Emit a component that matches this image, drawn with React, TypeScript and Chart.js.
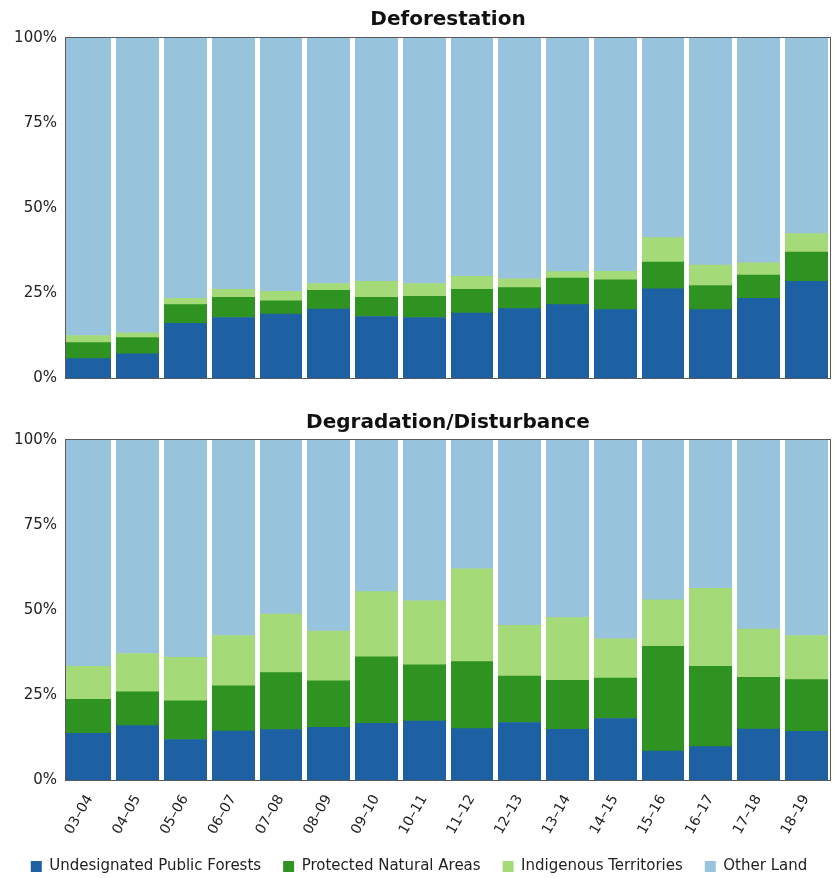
import React, { useEffect, useRef } from 'react';
import { Chart, registerables } from 'chart.js';

Chart.register(...registerables);

const periods = ['03–04', '04–05', '05–06', '06–07', '07–08', '08–09', '09–10', '10–11', '11–12', '12–13', '13–14', '14–15', '15–16', '16–17', '17–18', '18–19'];
const seriesNames = ['Undesignated Public Forests', 'Protected Natural Areas', 'Indigenous Territories', 'Other Land'];
const seriesColors = ['#1d61a4', '#2e9321', '#a5da78', '#97c3dc'];
const yTicks = [0, 25, 50, 75, 100];

// Deforestation (% share per period)
const defUndesignated = [5.7, 7.1, 16.1, 17.8, 18.8, 20.3, 18.1, 17.8, 19.1, 20.4, 21.6, 20.1, 26.2, 20.1, 23.4, 28.4];
const defProtected = [4.7, 4.8, 5.5, 5.9, 3.9, 5.5, 5.6, 6.2, 7.0, 6.2, 7.8, 8.8, 7.9, 7.1, 6.9, 8.6];
const defIndigenous = [2.1, 1.4, 1.8, 2.4, 2.8, 2.0, 4.7, 3.8, 3.8, 2.6, 1.9, 2.5, 7.2, 6.0, 3.6, 5.5];
const defOther = [87.5, 86.7, 76.6, 73.9, 74.5, 72.2, 71.6, 72.2, 70.1, 70.8, 68.7, 68.6, 58.7, 66.8, 66.1, 57.5];

// Degradation/Disturbance (% share per period)
const degUndesignated = [13.7, 16.0, 11.9, 14.4, 14.8, 15.5, 16.7, 17.3, 15.1, 16.9, 14.9, 18.1, 8.5, 9.8, 15.0, 14.3];
const degProtected = [10.0, 9.9, 11.4, 13.3, 16.8, 13.7, 19.5, 16.6, 19.7, 13.7, 14.4, 11.9, 30.8, 23.6, 15.2, 15.2];
const degIndigenous = [9.7, 11.3, 12.8, 14.8, 17.2, 14.6, 19.2, 18.8, 27.3, 14.9, 18.5, 11.5, 13.7, 23.0, 14.2, 13.0];
const degOther = [66.6, 62.8, 63.9, 57.5, 51.2, 56.2, 44.6, 47.3, 37.9, 54.5, 52.2, 58.5, 47.0, 43.6, 55.6, 57.5];

const FONT = '"DejaVu Sans", "Noto Sans", sans-serif';
const PAD_LEFT = 8;

const framePlugin = {
  id: 'frame',
  afterDraw(chart: any) {
    const { ctx, chartArea } = chart;
    const { left, top, right, bottom } = chartArea;
    ctx.save();
    ctx.strokeStyle = '#5a5a5a';
    ctx.lineWidth = 1;
    ctx.strokeRect(Math.round(left) - 0.5, Math.round(top) - 0.5, Math.round(right - left) + 1, Math.round(bottom - top) + 1);
    ctx.restore();
  },
};

function makeConfig(title: string, values: number[][], bottom: boolean, titlePad: { top: number; bottom: number }) {
  const n = periods.length;
  return {
    type: 'bar' as const,
    data: {
      labels: periods,
      datasets: seriesNames.map((name, i) => ({
        label: name,
        data: values[i],
        backgroundColor: seriesColors[i],
        borderWidth: 0,
        barPercentage: 1,
        categoryPercentage: 1,
      })),
    },
    options: {
      animation: false,
      responsive: true,
      maintainAspectRatio: false,
      layout: { padding: { left: PAD_LEFT, right: 4, top: 0, bottom: 0 } },
      plugins: {
        title: {
          display: true,
          fullSize: false,
          text: title,
          color: '#111',
          font: { family: FONT, size: 20, weight: 'bold' },
          padding: titlePad,
        },
        legend: bottom
          ? {
              display: true,
              position: 'bottom',
              labels: {
                color: '#222',
                font: { family: FONT, size: 15 },
                boxWidth: 11,
                boxHeight: 11,
                padding: 22,
              },
            }
          : { display: false },
        tooltip: { enabled: false },
      },
      scales: {
        x: {
          stacked: true,
          offset: true,
          border: { display: false },
          grid: {
            offset: true,
            z: 1,
            drawTicks: false,
            lineWidth: 5,
            color: (c: any) => (c.index === 0 || c.index >= n ? 'rgba(0,0,0,0)' : '#ffffff'),
          },
          ticks: bottom
            ? {
                display: true,
                color: '#222',
                font: { family: FONT, size: 14 },
                maxRotation: 60,
                minRotation: 60,
                padding: 12,
              }
            : { display: false },
          afterFit: (s: any) => { s.height = bottom ? 57 : 0; },
        },
        y: {
          stacked: true,
          min: 0,
          max: 100,
          border: { display: false },
          grid: { display: false, drawTicks: false },
          afterBuildTicks: (s: any) => { s.ticks = yTicks.map((v) => ({ value: v })); },
          ticks: {
            color: '#222',
            font: { family: FONT, size: 15 },
            padding: 9,
            callback: (v: any) => v + '%',
          },
          afterFit: (s: any) => { s.width = 66 - PAD_LEFT; },
        },
      },
    },
    plugins: [framePlugin],
  };
}

export default function App() {
  const topRef = useRef<HTMLCanvasElement | null>(null);
  const botRef = useRef<HTMLCanvasElement | null>(null);

  useEffect(() => {
    const c1 = new Chart(topRef.current as HTMLCanvasElement, makeConfig('Deforestation', [defUndesignated, defProtected, defIndigenous, defOther], false, { top: 8, bottom: 6 }) as any);
    const c2 = new Chart(botRef.current as HTMLCanvasElement, makeConfig('Degradation/Disturbance', [degUndesignated, degProtected, degIndigenous, degOther], true, { top: 21, bottom: 5 }) as any);
    return () => {
      c1.destroy();
      c2.destroy();
    };
  }, []);

  return (
    <div style={{ position: 'absolute', left: 0, top: 0, width: 834, height: 878, overflow: 'hidden', background: '#fff' }}>
      <div style={{ position: 'absolute', left: 0, top: 0, width: 834, height: 396 }}>
        <canvas ref={topRef} />
      </div>
      <div style={{ position: 'absolute', left: 0, top: 390, width: 834, height: 494 }}>
        <canvas ref={botRef} />
      </div>
    </div>
  );
}
